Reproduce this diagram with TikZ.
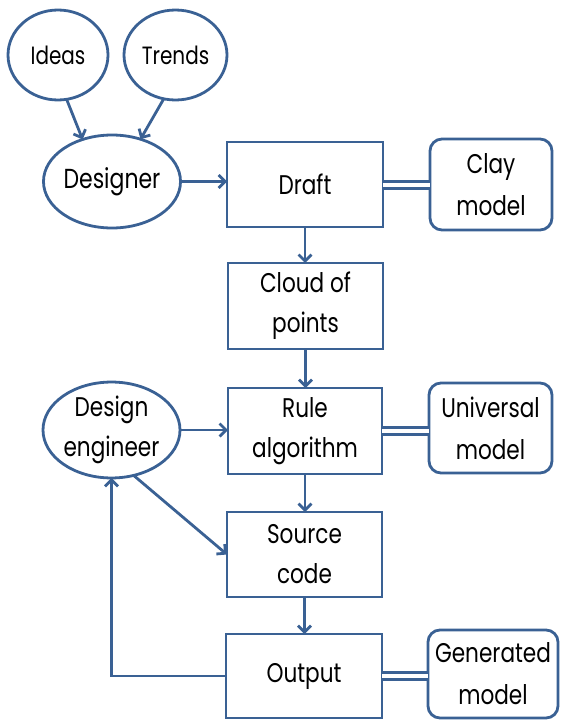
\documentclass[tikz,border=0pt]{standalone}
\usepackage{fontspec}
\setmainfont{Poppins}[FakeStretch=0.8]
\usetikzlibrary{arrows.meta,shapes.geometric,calc}
\definecolor{lineblue}{RGB}{58,97,148}
\tikzset{
  base/.style={draw=lineblue, line width=2.8pt, inner sep=0pt, outer sep=0pt, align=center, text=black},
  oval/.style={base, ellipse},
  boxnode/.style={base, rectangle, font=\fontsize{27}{40}\selectfont},
  roundbox/.style={base, rectangle, rounded corners=12pt, font=\fontsize{27}{42}\selectfont},
  arr/.style={draw=lineblue, line width=2.8pt, -{Straight Barb[length=6.5pt,width=13pt]}},
  link/.style={draw=lineblue, line width=3pt, double=white, double distance=4pt},
}
\begin{document}
\begin{tikzpicture}[x=1pt,y=-1pt]
\useasboundingbox (0,0) rectangle (560,720);
\node[oval, minimum width=100pt, minimum height=90pt, font=\fontsize{25}{28}\selectfont] (ideas) at (58,55) {Ideas};
\node[oval, minimum width=103pt, minimum height=90pt, font=\fontsize{25}{28}\selectfont] (trends) at (175.5,55) {Trends};
\node[oval, minimum width=137pt, minimum height=93pt, font=\fontsize{27.5}{30}\selectfont] (designer) at (112,181.5) {Designer};
\node[boxnode, minimum width=156pt, minimum height=85pt] (draft) at (305,184.5) {Draft};
\node[roundbox, minimum width=122pt, minimum height=91pt] (clay) at (491,184.5) {Clay\\model};
\node[boxnode, minimum width=155pt, minimum height=86pt] (cloud) at (305.5,306) {Cloud of\\points};
\node[oval, minimum width=137pt, minimum height=94pt, font=\fontsize{27}{40}\selectfont] (de) at (111.5,430) {Design\\engineer};
\node[boxnode, minimum width=154pt, minimum height=86pt] (rule) at (305,431) {Rule\\algorithm};
\node[roundbox, minimum width=123pt, minimum height=90pt] (universal) at (490.5,428) {Universal\\model};
\node[boxnode, minimum width=155pt, minimum height=85pt] (source) at (304.5,554.5) {Source\\code};
\node[boxnode, minimum width=156pt, minimum height=84pt] (output) at (304,676) {Output};
\node[roundbox, minimum width=130pt, minimum height=88pt] (generated) at (493,674) {Generated\\model};

\draw[arr] (ideas.-79) -- (designer.125);
\draw[arr] (trends.-105) -- (designer.56);
\draw[arr] (designer.east) -- (draft.west |- designer.east);
\draw[arr] (draft.south) -- (cloud.north -| draft.south);
\draw[arr] (cloud.south) -- (rule.north -| cloud.south);
\draw[arr] (de.east) -- (rule.west |- de.east);
\draw[arr] (de.-64) -- (source.west);
\draw[arr] (rule.south) -- (source.north -| rule.south);
\draw[arr] (source.south) -- (output.north -| source.south);
\draw[arr] (output.west) -| (de.south);
\draw[link] (draft.east) -- (clay.west |- draft.east);
\draw[link] (rule.east) -- (universal.west |- rule.east);
\draw[link] (output.east) -- (generated.west |- output.east);
\end{tikzpicture}
\end{document}
